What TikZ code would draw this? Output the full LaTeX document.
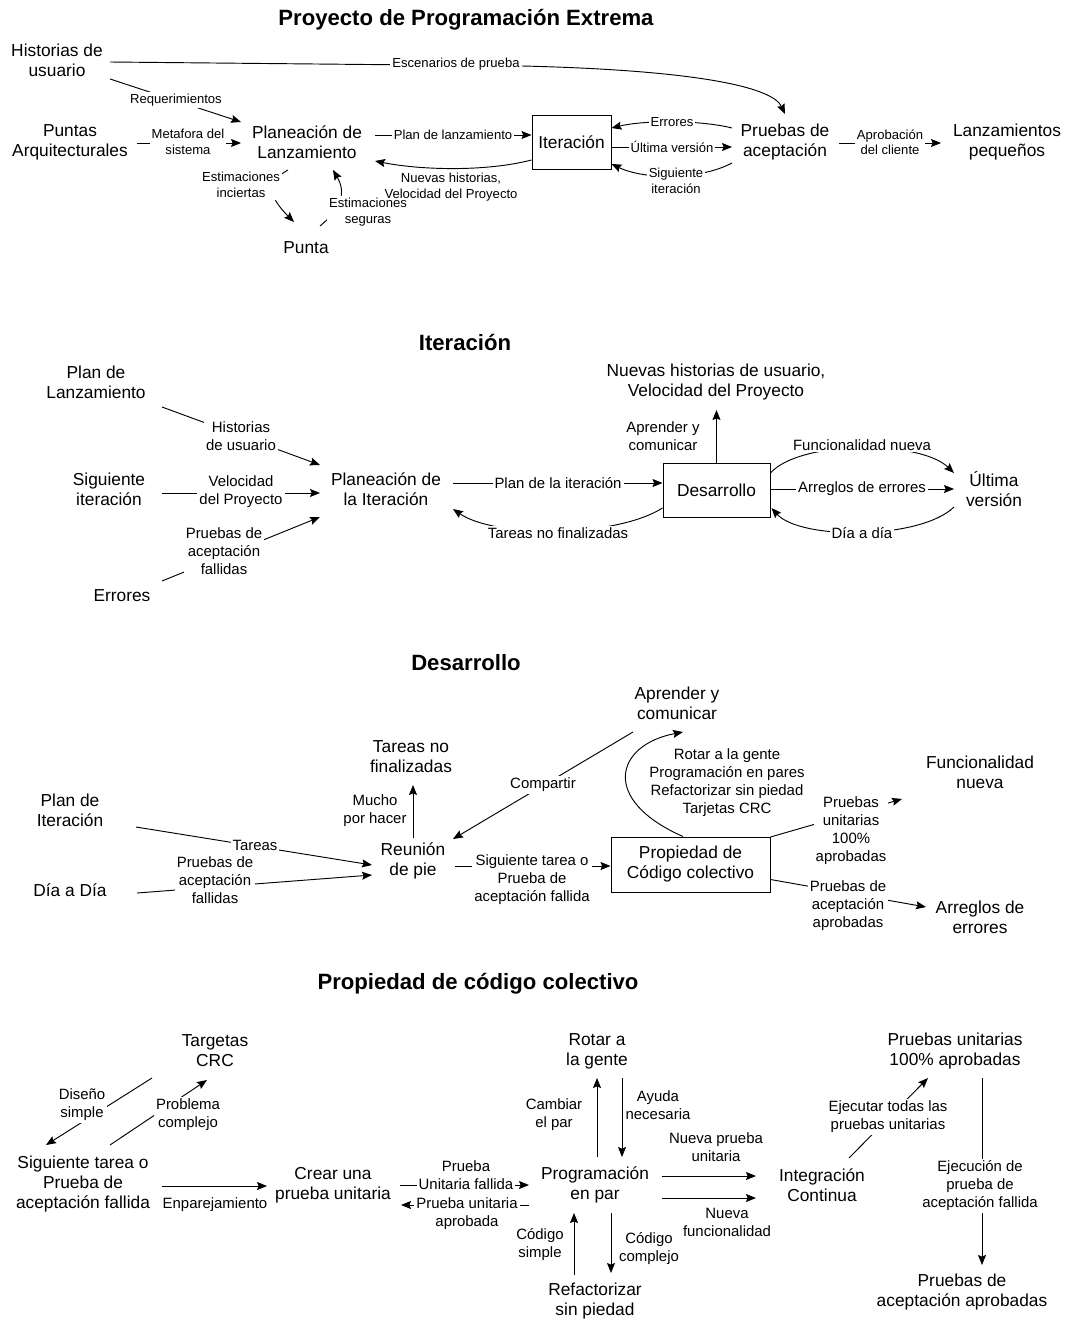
\documentclass[tikz,border=0pt]{standalone}
\usepackage{fontspec}
\setmainfont{Liberation Sans}
\usetikzlibrary{arrows.meta,calc}

\begin{document}
\begin{tikzpicture}[x=0.75pt,y=-0.75pt,
  txt/.style={align=center, font=\fontsize{13}{15}\selectfont, inner sep=2pt},
  lbl/.style={align=center, font=\fontsize{11.2}{13.5}\selectfont, fill=white, inner sep=1.5pt},
  slbl/.style={align=center, font=\fontsize{9.8}{11.6}\selectfont, fill=white, inner sep=1.5pt},
  ttl/.style={font=\bfseries\fontsize{16.6}{19}\selectfont, inner sep=0pt},
  box/.style={txt, draw, line width=0.75pt},
  link/.style={line width=0.7pt},
  arr/.style={link, -{Stealth[length=7.5pt,width=6pt,inset=1.2pt]}},
]
\fill[white, use as bounding box] (0,0) rectangle (1064,1320);

% ---------------- Proyecto de Programacion Extrema ----------------
\node[ttl] (t1) at (466,20) {Proyecto de Programación Extrema};
\node[txt] (hist)   at (57,60)   {Historias de\\usuario};
\node[txt] (puntas) at (70,142)  {Puntas\\Arquitecturales};
\node[txt] (planl)  at (307,142) {Planeación de\\Lanzamiento};
\node[box, minimum width=59.25pt, minimum height=40.5pt] (iter) at (571.5,142) {Iteración};
\node[txt] (pacep)  at (785,142) {Pruebas de\\aceptación};
\node[txt] (lanz)   at (1007,142) {Lanzamientos\\pequeños};
\node[txt] (punta)  at (306,248) {Punta};

\draw[arr] ($(hist)+(53,2)$) -- (522,66) .. controls (690,70) and (772,86) .. ($(pacep)+(0,-28)$);
\draw[arr] ($(hist)+(53,19)$) -- ($(planl)+(-66,-20)$);
\draw[arr] ($(puntas)+(67,1)$) -- ($(planl)+(-66,1)$);
\draw[arr] ($(planl)+(68,-7)$) -- ($(iter.west)+(0,-7)$);
\draw[arr] ($(iter.west)+(0,18)$) .. controls (485,172) and (420,170) .. ($(planl)+(68,19)$);
\draw[arr] ($(pacep)+(-53,-14)$) .. controls (700,120) and (645,120) .. ($(iter.east)+(0,-14)$);
\draw[arr] ($(iter.east)+(0,5)$) -- ($(pacep)+(-53,5)$);
\draw[arr] ($(pacep)+(-53,21)$) .. controls (700,180) and (645,180) .. ($(iter.east)+(0,22)$);
\draw[arr] ($(pacep)+(54,1)$) -- ($(lanz)+(-66,1)$);
\draw[arr] ($(planl)+(-19,28)$) .. controls (266,182) and (268,196) .. ($(punta)+(-12,-26)$);
\draw[arr] ($(punta)+(14,-22)$) .. controls (342,208) and (346,192) .. ($(planl)+(26,28)$);

\node[slbl] (l1a) at (456,64)  {Escenarios de prueba};
\node[slbl] (l1b) at (176,100) {Requerimientos};
\node[slbl] (l1c) at (188,142) {Metafora del\\sistema};
\node[slbl] (l1d) at (453,135) {Plan de lanzamiento};
\node[slbl] (l1f) at (672,122) {Errores};
\node[slbl] (l1g) at (672,147) {Última versión};
\node[slbl] (l1h) at (676,181) {Siguiente\\iteración};
\node[slbl] (l1i) at (890,142) {Aprobación\\del cliente};
\node[slbl] (l1j) at (241,185) {Estimaciones\\inciertas};
\node[slbl] (l1k) at (368,212) {Estimaciones\\seguras};
\node[slbl, fill=none] (l1e) at (451,187) {Nuevas historias,\\Velocidad del Proyecto};

% ---------------- Iteracion ----------------
\node[ttl] (t2) at (465,342) {Iteración};
\node[txt] (plz) at (96,382)  {Plan de\\Lanzamiento};
\node[txt] (sit) at (109,489) {Siguiente\\iteración};
\node[txt] (err) at (122,596) {Errores};
\node[txt] (pit) at (386,489) {Planeación de\\la Iteración};
\node[box, minimum width=80.25pt, minimum height=40.5pt] (des) at (716.5,490) {Desarrollo};
\node[txt] (nhv) at (716,382) {Nuevas historias de usuario,\\Velocidad del Proyecto};
\node[txt] (ult) at (994,489) {Última\\versión};

\draw[arr] ($(plz)+(66,25)$) -- ($(pit)+(-66,-24)$);
\draw[arr] ($(sit)+(53,4)$) -- ($(pit)+(-66,4)$);
\draw[arr] ($(err)+(40,-15)$) -- ($(pit)+(-66,28)$);
\draw[arr] ($(pit)+(67,-6)$) -- ($(des.west)+(0,-7)$);
\draw[arr] ($(des.west)+(0,18)$) .. controls (615,538) and (495,538) .. ($(pit)+(67,20)$);
\draw[arr] (des.north) -- ($(nhv)+(0.5,28)$);
\draw[arr] ($(des.east)+(0,-17)$) .. controls (800,440) and (920,440) .. ($(ult)+(-40,-16)$);
\draw[arr] ($(des.east)+(0,-1)$) -- ($(ult)+(-40,0)$);
\draw[arr] ($(ult)+(-40,18)$) .. controls (920,540) and (800,540) .. ($(des.east)+(1,18)$);

\node[lbl] (l2a) at (241,436) {Historias\\de usuario};
\node[lbl] (l2b) at (241,492) {Velocidad\\del Proyecto};
\node[lbl] (l2c) at (224,551) {Pruebas de\\aceptación\\fallidas};
\node[lbl] (l2d) at (558,483) {Plan de la iteración};
\node[lbl] (l2e) at (558,533) {Tareas no finalizadas};
\node[lbl] (l2f) at (663,436) {Aprender y\\comunicar};
\node[lbl] (l2g) at (862,445) {Funcionalidad nueva};
\node[lbl] (l2h) at (862,489) {Arreglos de errores};
\node[lbl] (l2i) at (862,533) {Día a día};

% ---------------- Desarrollo ----------------
\node[ttl] (t3) at (466,663) {Desarrollo};
\node[txt] (pit2) at (70,810)  {Plan de\\Iteración};
\node[txt] (dad)  at (70,890)  {Día a Día};
\node[txt] (reu)  at (413,861) {Reunión\\de pie};
\node[txt] (tnf)  at (411,757) {Tareas no\\finalizadas};
\node[txt] (apc)  at (677,703) {Aprender y\\comunicar};
\node[box, minimum width=119.25pt, minimum height=41.25pt] (pcc) at (690.5,864.5) {Propiedad de\\Código colectivo};
\node[txt] (fnu)  at (980,772) {Funcionalidad\\nueva};
\node[txt] (are)  at (980,917) {Arreglos de\\errores};

\draw[arr] ($(pit2)+(66,17)$) -- ($(reu)+(-41,4)$);
\draw[arr] ($(dad)+(67,3)$) -- ($(reu)+(-41,14)$);
\draw[arr] ($(reu)+(0,-23)$) -- ($(tnf)+(2,28)$);
\draw[arr] ($(apc)+(-44,29)$) -- ($(reu)+(40,-22)$);
\draw[arr] ($(pcc.north)+(-7.5,0)$) .. controls (600,800) and (615,745) .. ($(apc)+(6,29)$);
\draw[arr] ($(reu)+(42,5)$) -- ($(pcc.west)+(0,1.5)$);
\draw[arr] ($(pcc.north east)+(0,0.5)$) -- ($(fnu)+(-78,27)$);
\draw[arr] ($(pcc.east)+(0,15)$) -- ($(are)+(-54,-10)$);

\node[lbl] (l3a) at (255,845) {Tareas};
\node[lbl] (l3b) at (215,880) {Pruebas de\\aceptación\\fallidas};
\node[lbl] (l3c) at (375,811) {Mucho\\por hacer};
\node[lbl] (l3d) at (543,785) {Compartir};
\node[lbl, fill=none] (l3e) at (727,783) {Rotar a la gente\\Programación en pares\\Refactorizar sin piedad\\Tarjetas CRC};
\node[lbl] (l3f) at (532,880) {Siguiente tarea o\\Prueba de\\aceptación fallida};
\node[lbl] (l3g) at (851,831) {Pruebas\\unitarias\\100\%\\aprobadas};
\node[lbl] (l3h) at (848,906) {Pruebas de\\aceptación\\aprobadas};

% ---------------- Propiedad de codigo colectivo ----------------
\node[ttl] (t4) at (478,984) {Propiedad de código colectivo};
\node[txt] (tcrc) at (215,1051) {Targetas\\CRC};
\node[txt] (sto)  at (83,1184)  {Siguiente tarea o\\Prueba de\\aceptación fallida};
\node[txt] (cpu)  at (333,1185) {Crear una\\prueba unitaria};
\node[txt] (pep)  at (595,1185) {Programación\\en par};
\node[txt] (rot)  at (597,1051) {Rotar a\\la gente};
\node[txt] (rsp)  at (595,1301) {Refactorizar\\sin piedad};
\node[txt] (ico)  at (822,1185) {Integración\\Continua};
\node[txt] (pua)  at (955,1051) {Pruebas unitarias\\100\% aprobadas};
\node[txt] (paa)  at (962,1292) {Pruebas de\\aceptación aprobadas};

\draw[arr] ($(sto)+(27,-39)$) -- ($(tcrc)+(-8,29)$);
\draw[arr] ($(tcrc)+(-63,27)$) -- ($(sto)+(-37,-39)$);
\draw[arr] ($(sto)+(79,2)$) -- ($(cpu)+(-66,1)$);
\draw[arr] ($(cpu)+(67,0)$) -- ($(pep)+(-66,0)$);
\draw[arr] ($(pep)+(-66,20)$) -- ($(cpu)+(68,20)$);
\draw[arr] ($(pep)+(2,-28)$) -- ($(rot)+(0,27)$);
\draw[arr] ($(rot)+(25,27)$) -- ($(pep)+(27,-28)$);
\draw[arr] ($(pep)+(16,28)$) -- ($(rsp)+(16,-28)$);
\draw[arr] ($(rsp)+(-21,-26)$) -- ($(pep)+(-21,28)$);
\draw[arr] ($(pep)+(67,-9)$) -- ($(ico)+(-66,-9)$);
\draw[arr] ($(pep)+(67,13)$) -- ($(ico)+(-66,13)$);
\draw[arr] ($(ico)+(27,-27)$) -- ($(pua)+(-27,27)$);
\draw[arr] ($(pua)+(27,27)$) -- ($(paa)+(20,-27)$);

\node[lbl] (l4a) at (188,1115) {Problema\\complejo};
\node[lbl] (l4b) at (82,1105)  {Diseño\\simple};
\node[lbl] (l4c) at (215,1205) {Enparejamiento};
\node[lbl] (l4d) at (466,1175) {Prueba\\Unitaria fallida};
\node[lbl] (l4e) at (467,1214) {Prueba unitaria\\aprobada};
\node[lbl] (l4f) at (554,1115) {Cambiar\\el par};
\node[lbl] (l4g) at (658,1105) {Ayuda\\necesaria};
\node[lbl] (l4h) at (540,1245) {Código\\simple};
\node[lbl] (l4i) at (649,1249) {Código\\complejo};
\node[lbl] (l4j) at (716,1147) {Nueva prueba\\unitaria};
\node[lbl] (l4k) at (727,1222) {Nueva\\funcionalidad};
\node[lbl] (l4l) at (888,1117) {Ejecutar todas las\\pruebas unitarias};
\node[lbl] (l4m) at (980,1186) {Ejecución de\\prueba de\\aceptación fallida};
\end{tikzpicture}
\end{document}
